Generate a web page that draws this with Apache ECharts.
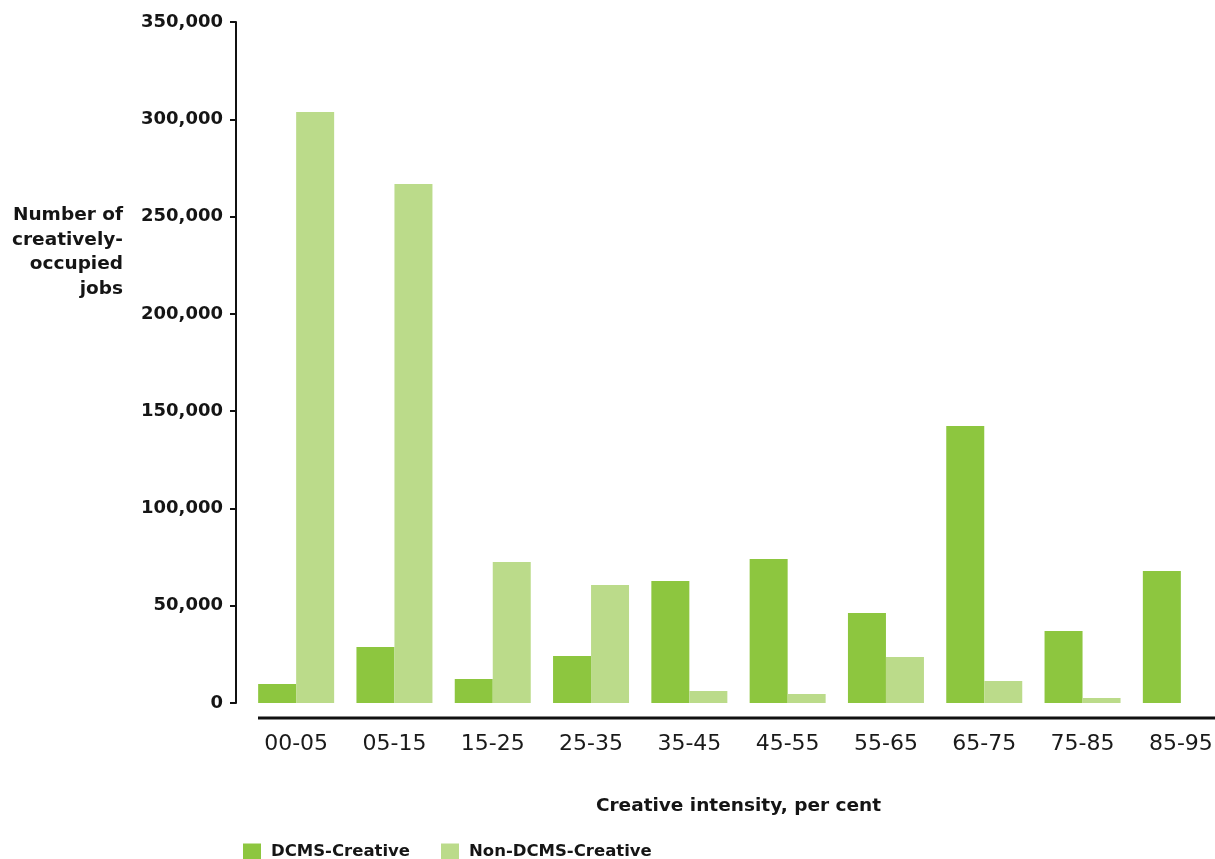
<!DOCTYPE html>
<html>
<head>
<meta charset="utf-8">
<script src="https://cdn.jsdelivr.net/npm/echarts@6/dist/echarts.min.js"></script>
<style>html,body{margin:0;padding:0;background:#fff;}#c{width:1215px;height:859px;}</style>
</head>
<body>
<div id="c"></div>
<script>
const categories = ['00-05','05-15','15-25','25-35','35-45','45-55','55-65','65-75','75-85','85-95'];
const dcmsCreative = [9800, 28800, 12300, 24200, 62700, 74000, 46200, 142300, 37000, 67800];
const nonDcmsCreative = [303700, 266700, 72500, 60600, 6200, 4600, 23600, 11300, 2600, 0];
const seriesNames = ['DCMS-Creative', 'Non-DCMS-Creative'];
const yTicks = {min: 0, max: 350000, interval: 50000};

const FONT = 'DejaVu Sans';
const chart = echarts.init(document.getElementById('c'), null, {renderer: 'canvas'});
chart.setOption({
  animation: false,
  backgroundColor: '#ffffff',
  textStyle: {fontFamily: FONT},
  grid: {left: 247, width: 983, top: 22, height: 681, containLabel: false, outerBoundsMode: 'none'},
  legend: {
    data: seriesNames,
    left: 238, top: 838,
    itemWidth: 18, itemHeight: 16, itemGap: 31,
    icon: 'rect',
    textStyle: {fontFamily: FONT, fontSize: 16.5, color: '#151515', fontWeight: 'bold', padding: [0, 0, 0, 5]}
  },
  xAxis: {
    type: 'category',
    data: categories,
    offset: 15,
    axisLine: {show: false},
    axisTick: {show: false},
    axisLabel: {fontFamily: FONT, fontSize: 22, color: '#1a1a1a', margin: 15},
    name: 'Creative intensity, per cent',
    nameLocation: 'middle',
    nameGap: 79,
    nameTextStyle: {fontFamily: FONT, fontSize: 18.5, color: '#151515', fontWeight: 'bold'}
  },
  yAxis: {
    type: 'value',
    min: yTicks.min, max: yTicks.max, interval: yTicks.interval,
    offset: 11,
    splitLine: {show: false},
    axisLine: {show: true, lineStyle: {color: '#111', width: 2}},
    axisTick: {show: true, length: 6, lineStyle: {color: '#111', width: 2}},
    axisLabel: {
      fontFamily: FONT, fontSize: 18, color: '#151515', margin: 13, fontWeight: 'bold',
      formatter: v => v.toLocaleString('en-US')
    }
  },
  graphic: [
    {
      type: 'line', silent: true,
      shape: {x1: 258, y1: 718, x2: 1215, y2: 718},
      style: {stroke: '#111', lineWidth: 3}
    },
    {
      type: 'text', silent: true,
      x: 123, y: 203,
      style: {
        text: 'Number of\ncreatively-\noccupied\njobs',
        align: 'right', verticalAlign: 'top',
        font: 'bold 18.5px "DejaVu Sans"',
        lineHeight: 24.5,
        fill: '#151515'
      }
    }
  ],
  series: [
    {
      name: seriesNames[0], type: 'bar', data: dcmsCreative,
      barWidth: 38, barGap: '0%',
      itemStyle: {color: '#8DC63F'}
    },
    {
      name: seriesNames[1], type: 'bar', data: nonDcmsCreative,
      barWidth: 38, barGap: '0%',
      itemStyle: {color: '#BBDB8A'}
    }
  ]
});
</script>
</body>
</html>
